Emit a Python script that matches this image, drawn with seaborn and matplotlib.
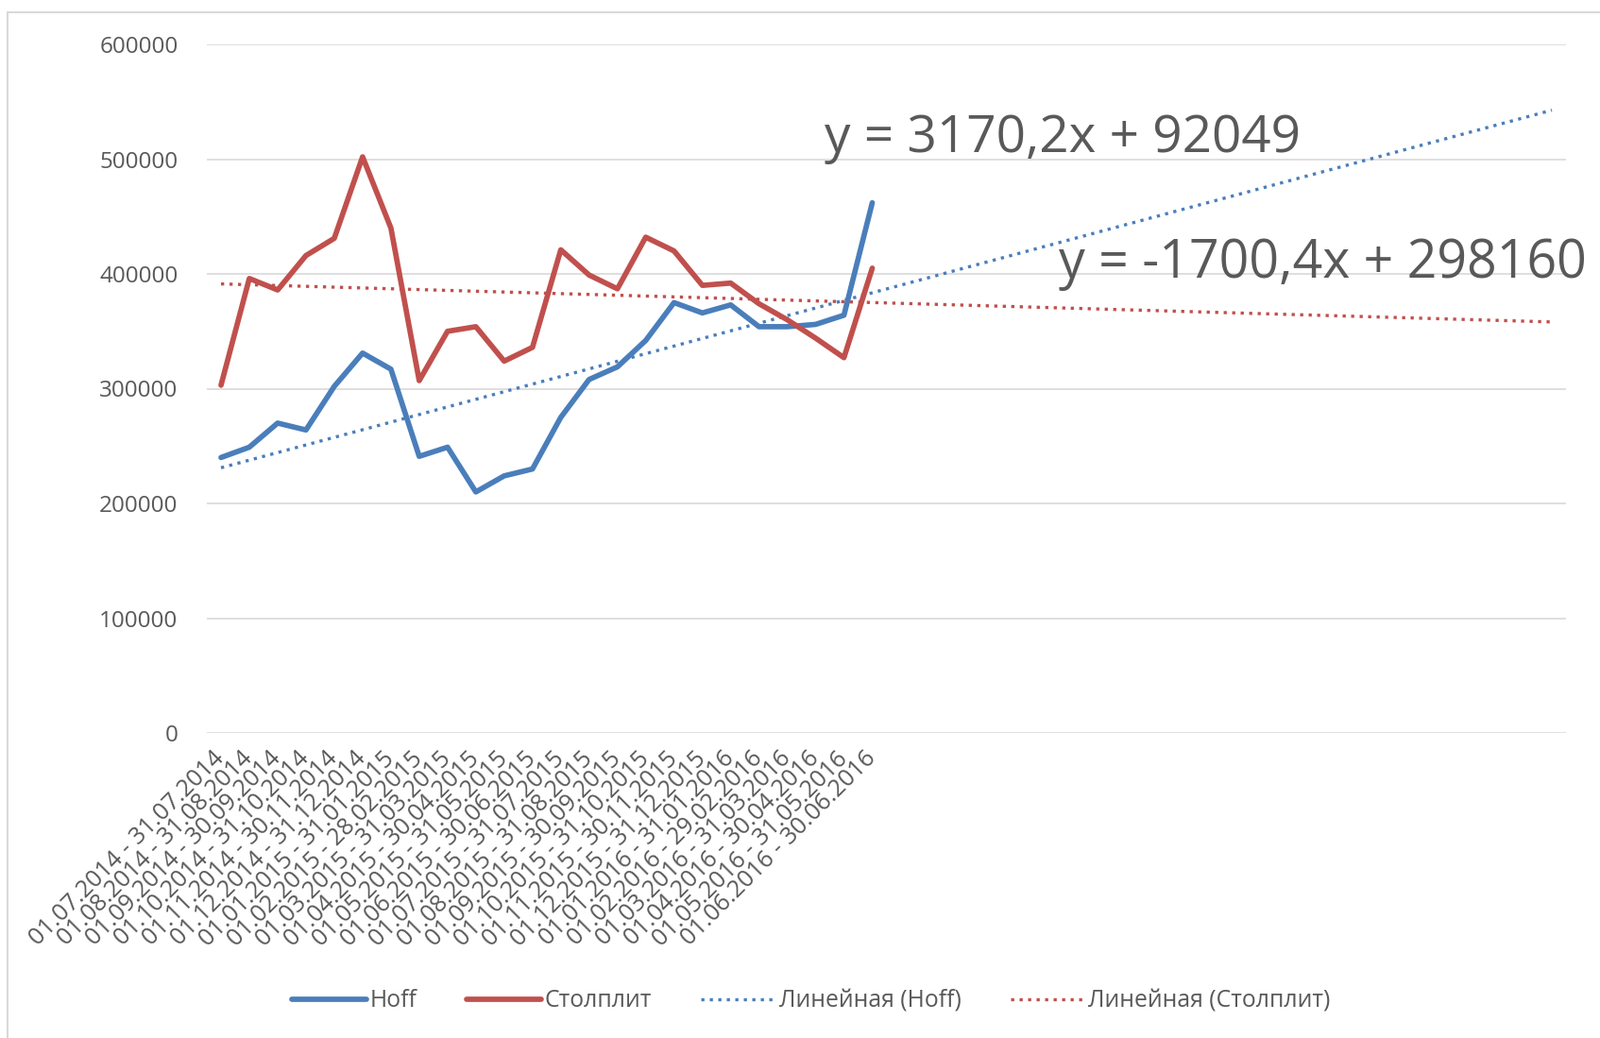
import numpy as np
import matplotlib.pyplot as plt
from matplotlib.lines import Line2D
import seaborn as sns

# Monthly periods (Jul 2014 - Jun 2016)
periods = [
    '01.07.2014 - 31.07.2014', '01.08.2014 - 31.08.2014', '01.09.2014 - 30.09.2014',
    '01.10.2014 - 31.10.2014', '01.11.2014 - 30.11.2014', '01.12.2014 - 31.12.2014',
    '01.01.2015 - 31.01.2015', '01.02.2015 - 28.02.2015', '01.03.2015 - 31.03.2015',
    '01.04.2015 - 30.04.2015', '01.05.2015 - 31.05.2015', '01.06.2015 - 30.06.2015',
    '01.07.2015 - 31.07.2015', '01.08.2015 - 31.08.2015', '01.09.2015 - 30.09.2015',
    '01.10.2015 - 31.10.2015', '01.11.2015 - 30.11.2015', '01.12.2015 - 31.12.2015',
    '01.01.2016 - 31.01.2016', '01.02.2016 - 29.02.2016', '01.03.2016 - 31.03.2016',
    '01.04.2016 - 30.04.2016', '01.05.2016 - 31.05.2016', '01.06.2016 - 30.06.2016',
]

hoff = [240000, 249000, 270000, 264000, 302000, 331000, 317000, 241000,
        249000, 210000, 224000, 230000, 275000, 308000, 319000, 342000,
        375000, 366000, 373000, 354000, 354000, 356000, 364000, 462000]

stolplit = [303000, 396000, 386000, 416000, 431000, 502000, 440000, 307000,
            350000, 354000, 324000, 336000, 421000, 399000, 387000, 432000,
            420000, 390000, 392000, 374000, 360000, 344000, 327000, 405000]

forecast_periods = 24  # trend lines run on past the data
eq_hoff = 'y = 3170,2x + 92049'
eq_stolplit = 'y = -1700,4x + 298160'

BLUE = '#4A7EBB'
RED = '#C0504D'
TEXT = '#595959'
GRID = '#D9D9D9'

sns.set_theme(style='white')
plt.rcParams['font.family'] = ['Open Sans', 'DejaVu Sans']

fig = plt.figure(figsize=(16.94, 10.99), dpi=100)
ax = fig.add_axes([219 / 1694, 1 - 776 / 1099, (1658 - 219) / 1694, (776 - 47) / 1099])

x = np.arange(len(periods))
x_all = np.arange(len(periods) + forecast_periods)

# linear trends (Excel "Линейная")
trend_hoff = np.polyval(np.polyfit(x, hoff, 1), x_all)
trend_stol = np.polyval(np.polyfit(x, stolplit, 1), x_all)

dot = (0, (1, 1.7))
sns.lineplot(x=x_all, y=trend_hoff, ax=ax, color=BLUE, lw=2.4, linestyle=dot,
             dash_capstyle='butt', zorder=2)
sns.lineplot(x=x_all, y=trend_stol, ax=ax, color=RED, lw=2.4, linestyle=dot,
             dash_capstyle='butt', zorder=2)
sns.lineplot(x=x, y=hoff, ax=ax, color=BLUE, lw=4.1, zorder=3,
             solid_joinstyle='round', solid_capstyle='round')
sns.lineplot(x=x, y=stolplit, ax=ax, color=RED, lw=4.1, zorder=3,
             solid_joinstyle='round', solid_capstyle='round')

ax.set_xlim(-0.5, len(x_all) - 0.5)
ax.set_ylim(0, 600000)
ax.set_yticks(range(0, 600001, 100000))
ax.set_xticks(x)
ax.set_xticklabels(periods, rotation=45, ha='right', va='center',
                   rotation_mode='anchor')
ax.tick_params(axis='y', length=0, pad=22, labelsize=17.5, labelcolor=TEXT)
ax.tick_params(axis='x', length=0, pad=17, labelsize=18.3, labelcolor=TEXT)
ax.yaxis.grid(True, color=GRID, lw=1.2)
ax.xaxis.grid(False)
for s in ax.spines.values():
    s.set_visible(False)
ax.set_xlabel('')
ax.set_ylabel('')

# trend equations
fig.text(873 / 1694, 1 - 146 / 1099, eq_hoff, fontsize=39.5, color=TEXT,
         ha='left', va='center')
fig.text(1121 / 1694, 1 - 279 / 1099, eq_stolplit, fontsize=40, color=TEXT,
         ha='left', va='center')

handles = [
    Line2D([], [], color=BLUE, lw=4.1),
    Line2D([], [], color=RED, lw=4.1),
    Line2D([], [], color=BLUE, lw=2.4, linestyle=dot, dash_capstyle='butt'),
    Line2D([], [], color=RED, lw=2.4, linestyle=dot, dash_capstyle='butt'),
]
labels = ['Hoff', 'Столплит', 'Линейная (Hoff)', 'Линейная (Столплит)']
leg = ax.legend(handles, labels, ncol=4, loc='center',
                bbox_to_anchor=(859 / 1694, 1 - 1060 / 1099),
                bbox_transform=fig.transFigure, frameon=False,
                fontsize=17.8, handlelength=3.2, handletextpad=0.15,
                columnspacing=2.1)
for t in leg.get_texts():
    t.set_color(TEXT)

# chart area border (left and top edges visible)
fig.add_artist(Line2D([8 / 1694, 8 / 1694], [0, 1 - 13 / 1099], color=GRID,
                      lw=1.5, transform=fig.transFigure))
fig.add_artist(Line2D([8 / 1694, 1], [1 - 13 / 1099, 1 - 13 / 1099], color=GRID,
                      lw=1.5, transform=fig.transFigure))

fig.savefig('out.png', dpi=100, facecolor='white')
